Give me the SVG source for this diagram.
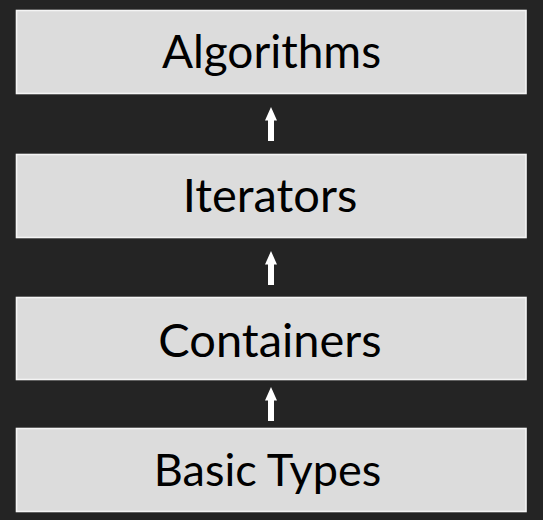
<svg xmlns="http://www.w3.org/2000/svg" width="543" height="520" viewBox="0 0 543 520">
<defs>
<style>
.box{fill:#dcdcdc;stroke:#f4f4f4;stroke-width:1.6}
.lbl{font-family:Lato,"Open Sans","Liberation Sans",sans-serif;font-size:46px;fill:#000;text-anchor:middle}
.arr{fill:#ffffff}
</style>
<path id="up" d="M0,0 L6,13.5 L3,13.5 L3,34 L-3,34 L-3,13.5 L-6,13.5 Z"/>
</defs>
<rect x="0" y="0" width="543" height="520" fill="#242424"/>
<g id="algorithms">
<rect class="box" x="16.5" y="10.5" width="509.5" height="83"/>
<text class="lbl" x="271.5" y="68">Algorithms</text>
</g>
<g id="iterators">
<rect class="box" x="16.5" y="154.5" width="509.5" height="83"/>
<text class="lbl" x="270" y="212" style="font-size:47px">Iterators</text>
</g>
<g id="containers">
<rect class="box" x="16.5" y="297.5" width="509.5" height="82"/>
<text class="lbl" x="270" y="356.5" style="font-size:47px">Containers</text>
</g>
<g id="basic-types">
<rect class="box" x="16.5" y="428.5" width="509.5" height="83"/>
<text class="lbl" x="267.5" y="485.5" style="font-size:45px">Basic Types</text>
</g>
<g id="connectors" class="arr">
<use href="#up" x="271" y="107"/>
<use href="#up" x="271" y="251"/>
<use href="#up" x="271" y="387"/>
</g>
</svg>
